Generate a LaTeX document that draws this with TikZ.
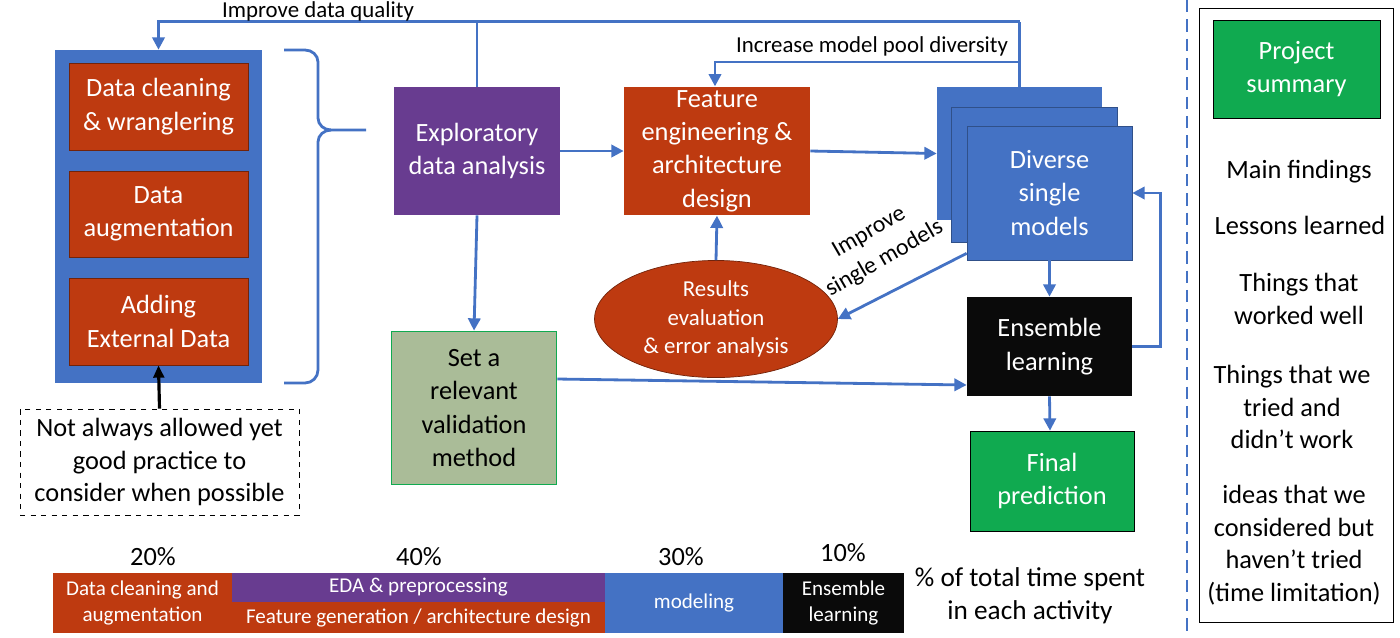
\documentclass[tikz,border=0pt]{standalone}
\usepackage{fontspec}
\setmainfont{Carlito}
\usetikzlibrary{arrows.meta, shapes.geometric, calc}
\definecolor{boxred}{RGB}{190,58,16}
\definecolor{boxblue}{RGB}{68,114,196}
\definecolor{boxpurple}{RGB}{104,60,144}
\definecolor{boxgreen}{RGB}{16,170,80}
\definecolor{sage}{RGB}{170,188,152}
\definecolor{nearblack}{RGB}{10,10,10}
\tikzset{
    stage/.style={fill=#1, text=white, align=center, inner sep=2pt, font=\fontsize{15}{19}\selectfont},
    subbox/.style={stage=boxred, draw=boxred!60!black, thin, minimum width=3.58cm, minimum height=1.74cm},
    barpart/.style={fill=#1, text=white, align=center, inner sep=1pt, font=\fontsize{12}{15}\selectfont},
    link/.style={boxblue, line width=1.6pt},
    flow/.style={link, -{Triangle[length=7pt, width=7pt]}},
    caption/.style={align=center, inner sep=0pt, font=\fontsize{13}{15}\selectfont},
    pct/.style={font=\fontsize{15}{18}\selectfont},
    summ/.style={align=center, font=\fontsize{15}{18.5}\selectfont},
    }

\begin{document}
\begin{tikzpicture}[x=0.02cm, y=-0.02cm]
    \useasboundingbox (0,0) rectangle (1400,637);

    % data preparation group
    \node[fill=boxblue, minimum width=4.14cm, minimum height=6.66cm] (outer) at (158.5,216.5) {};
    \node[subbox] (clean) at (158.5,106.5) {Data cleaning\\\& wranglering};
    \node[subbox, minimum height=1.72cm] (augm) at (158.5,214) {Data\\augmentation};
    \node[subbox] (extern) at (158.5,321.5) {Adding\\External Data};

    \node[draw, dashed, thin, align=center, minimum width=5.58cm, minimum height=2.12cm,
          font=\fontsize{15}{18.5}\selectfont] (note) at (159.5,462)
          {Not always allowed yet\\good practice to\\consider when possible};
    \draw[line width=1.8pt, -{Triangle[length=7pt, width=6pt]}] (note.north) -- (extern.south);

    % brace
    \draw[link] (284,50) -- (305,50) to[out=0, in=90] (318,62) -- (318,118)
        to[out=-90, in=180] (331,130) -- (366,130);
    \draw[link] (331,130) to[out=180, in=90] (318,142) -- (318,370)
        to[out=-90, in=0] (305,383) -- (284,383);

    % main stages
    \node[stage=boxpurple, minimum width=3.32cm, minimum height=2.56cm] (eda) at (477,151) {Exploratory\\data analysis};
    \node[stage=boxred, minimum width=3.72cm, minimum height=2.56cm] (feat) at (717,151) {Feature\\engineering \&\\architecture\\design};
    \node[stage=sage, text=black, draw=boxgreen, line width=1pt, minimum width=3.3cm, minimum height=3.06cm] (valid) at (474,408) {Set a\\relevant\\validation\\method};
    \node[ellipse, stage=boxred, draw=boxred!60!black, thin, minimum width=4.86cm, minimum height=2.16cm,
          font=\fontsize{13}{16}\selectfont] (eval) at (716,319) {Results\\evaluation\\\& error analysis};

    \node[stage=boxblue, minimum width=3.3cm, minimum height=2.66cm] (back) at (1019.5,153.5) {};
    \node[stage=boxblue, draw=boxblue!70!black, thin, minimum width=3.32cm, minimum height=2.7cm] (mid) at (1034,174.5) {};
    \node[stage=boxblue, draw=boxblue!70!black, thin, minimum width=3.3cm, minimum height=2.68cm] (front) at (1049.5,193) {Diverse\\single\\models};
    \node[stage=nearblack, minimum width=3.3cm, minimum height=1.98cm] (ens) at (1049.5,346.5) {Ensemble\\learning};
    \node[stage=boxgreen, draw=black, minimum width=3.28cm, minimum height=2cm] (final) at (1052,481) {Final\\prediction};

    % feedback loops
    \coordinate (div) at (1019.5,62);
    \draw[link] (back.north) -- ++(0,-65) coordinate (qtop);
    \draw[flow] (qtop) -| (outer.north);
    \draw[link] (eda.north) -- (eda.north |- qtop);
    \node[caption, font=\fontsize{13}{15}\selectfont] (qlabel) at (318,11) {Improve data quality};
    \draw[flow] (div) -| ([xshift=-0.04cm]feat.north);
    \node[caption, anchor=south] (dlabel) at (872,57) {Increase model pool diversity};

    \draw[flow] (eda.east) -- (feat.west);
    \draw[flow] (feat.east) -- (back.west);
    \draw[flow] (eval.north) -- (feat.south);
    \draw[flow] ([yshift=0.14cm]front.south west) -- (eval.east);
    \node[caption, rotate=30, font=\fontsize{13.5}{17.5}\selectfont] (slabel) at (877,246) {Improve\\single models};
    \draw[flow] (eda.south) -- (valid.north);
    \draw[flow] ([yshift=0.58cm]valid.east) -- ([yshift=-0.77cm]ens.west);
    \draw[flow] (front.south) -- (ens.north);
    \draw[flow] (ens.south) -- ([xshift=-0.04cm]final.north);
    \draw[flow] (ens.east) -- ++(28,0) |- (front.east);

    % time bar
    \node[barpart=boxred, minimum width=3.58cm, minimum height=1.2cm] (bclean) at (142.5,603) {Data cleaning and\\augmentation};
    \node[barpart=boxpurple, minimum width=7.46cm, minimum height=0.58cm] (beda) at (418.5,587.5) {EDA \& preprocessing};
    \node[barpart=boxred, minimum width=7.46cm, minimum height=0.62cm] (bfeat) at (418.5,617.5) {Feature generation / architecture design};
    \node[barpart=boxblue, minimum width=3.56cm, minimum height=1.2cm] (bmod) at (694,603) {modeling};
    \node[barpart=nearblack, minimum width=2.42cm, minimum height=1.2cm] (bens) at (843.5,603) {Ensemble\\learning};
    \node[pct] (p20) at (153,557) {20\%};
    \node[pct] (p40) at (419,557) {40\%};
    \node[pct] (p30) at (681,557) {30\%};
    \node[pct] (p10) at (843,553) {10\%};
    \node[summ, font=\fontsize{15.5}{19}\selectfont] (ptext) at (1030,596) {\% of total time spent\\in each activity};

    % project summary
    \draw[link, dash pattern=on 7pt off 4pt] (1187,0) -- (1187,637);
    \node[draw, thin, minimum width=3.88cm, minimum height=12.28cm] (summary) at (1296,315) {};
    \node[stage=boxgreen, draw=black, minimum width=3.34cm, minimum height=1.96cm] (proj) at (1296.5,69) {Project\\summary};
    \node[summ] (s1) at (1299,172) {Main findings};
    \node[summ] (s2) at (1300,225) {Lessons learned};
    \node[summ] (s3) at (1299,299) {Things that\\worked well};
    \node[summ] (s4) at (1292,407) {Things that we\\tried and\\didn’t work};
    \node[summ] (s5) at (1294,545) {ideas that we\\considered but\\haven’t tried\\(time limitation)};
\end{tikzpicture}
\end{document}
